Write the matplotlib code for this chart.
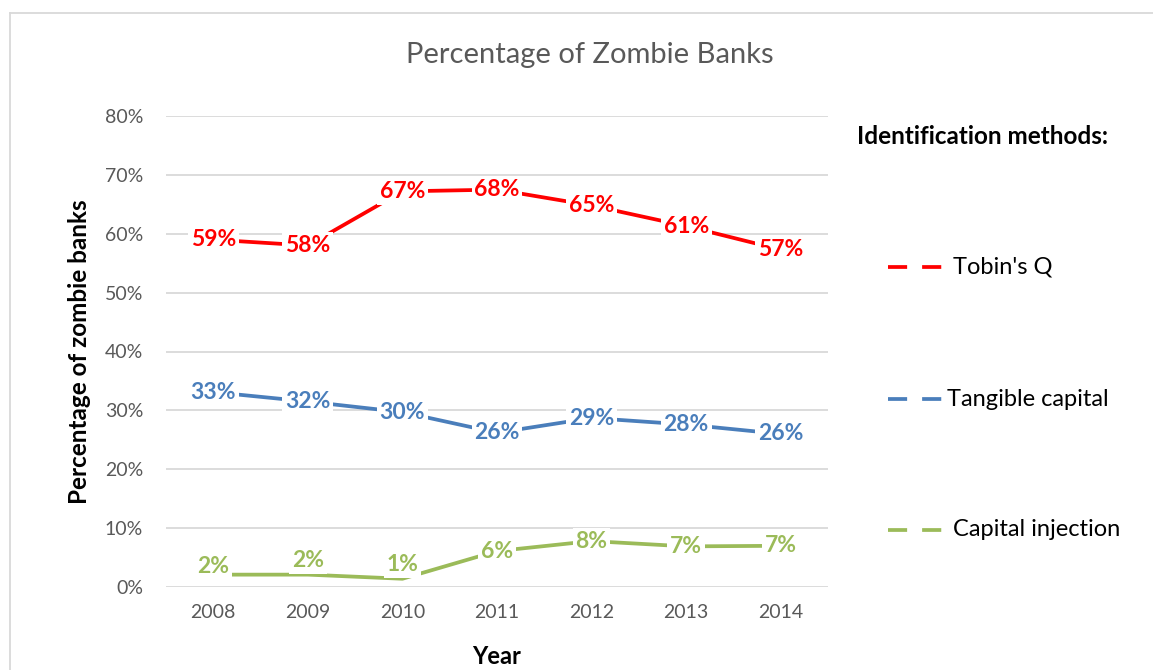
import matplotlib

matplotlib.use("Agg")
import matplotlib.pyplot as plt
from matplotlib.lines import Line2D
from matplotlib.ticker import PercentFormatter

years = ["2008", "2009", "2010", "2011", "2012", "2013", "2014"]
tobins_q = [0.590, 0.580, 0.672, 0.675, 0.648, 0.613, 0.573]
tangible_capital = [0.331, 0.315, 0.297, 0.262, 0.287, 0.276, 0.260]
capital_injection = [0.021, 0.021, 0.014, 0.061, 0.078, 0.069, 0.070]

series_names = ["Tobin's Q", "Tangible capital", "Capital injection"]
colors = ["#FF0000", "#4A7EBB", "#9BBB59"]
# labels near the floor get nudged up so they stay inside the plot area
label_lift = [
    [0, 0, 0, 0, 0, 0, 0],
    [0, 0, 0, 0, 0, 0, 0],
    [6, 10, 10, 0, 0, 0, 0],
]

plt.rcParams["font.family"] = ["Lato", "DejaVu Sans"]

fig = plt.figure(figsize=(11.53, 6.70), dpi=100)
ax = fig.add_axes([166 / 1153, 1 - 587 / 670, (828 - 166) / 1153, (587 - 116) / 670])

x = list(range(len(years)))
all_series = [tobins_q, tangible_capital, capital_injection]
for vals, color, lift in zip(all_series, colors, label_lift):
    ax.plot(x, vals, color=color, linewidth=2.7, solid_capstyle="butt", zorder=3)
    for xi, v, dy in zip(x, vals, lift):
        ax.annotate(
            f"{v * 100:.0f}%",
            (xi, v),
            xytext=(0, dy),
            textcoords="offset points",
            ha="center",
            va="center",
            fontsize=16.5,
            fontweight="bold",
            color=color,
            zorder=5,
            bbox=dict(boxstyle="square,pad=0.12", fc="white", ec="none"),
        )

ax.set_xlim(-0.5, len(years) - 0.5)
ax.set_ylim(0, 0.8)
ax.set_yticks([i / 10 for i in range(9)])
ax.yaxis.set_major_formatter(PercentFormatter(1.0, decimals=0))
ax.set_xticks(x)
ax.set_xticklabels(years)
ax.tick_params(axis="both", length=0, labelsize=14, labelcolor="#595959")
ax.tick_params(axis="y", pad=16.5)
ax.tick_params(axis="x", pad=12)
ax.grid(axis="y", color="#D9D9D9", linewidth=1.3, zorder=0)
ax.set_axisbelow(True)
for side in ax.spines.values():
    side.set_visible(False)

ax.set_xlabel("Year", fontsize=17, fontweight="bold")
ax.xaxis.set_label_coords(0.5, -0.124)
ax.set_ylabel("Percentage of zombie banks", fontsize=17.5, fontweight="bold")
ax.yaxis.set_label_coords(-0.113, 0.5)

fig.text(590 / 1153, 1 - 55 / 670, "Percentage of Zombie Banks",
         ha="center", va="center", fontsize=21, color="#595959")

# legend drawn by hand to mirror the spaced-out vertical layout
fig.text(857 / 1153, 1 - 137 / 670, "Identification methods:",
         ha="left", va="center", fontsize=17.5, fontweight="bold", color="black")
legend_y = [267, 399, 530]
legend_text_x = [953, 947, 953]
for name, color, ly, tx in zip(series_names, colors, legend_y, legend_text_x):
    yy = 1 - ly / 670
    fig.add_artist(Line2D([888 / 1153, 942 / 1153], [yy, yy], color=color,
                          linewidth=2.7, linestyle=(0, (5.1, 4.0)),
                          solid_capstyle="butt", dash_capstyle="butt"))
    fig.text(tx / 1153, yy, name, ha="left", va="center", fontsize=17, color="black")

# chart-area frame (only top and left edges are in view)
bx, by = 10 / 1153, 1 - 13 / 670
fig.add_artist(Line2D([bx, 1.0], [by, by], color="#D9D9D9", linewidth=1.3))
fig.add_artist(Line2D([bx, bx], [by, 0.0], color="#D9D9D9", linewidth=1.3))

fig.savefig("out.png", dpi=100, facecolor="white")
